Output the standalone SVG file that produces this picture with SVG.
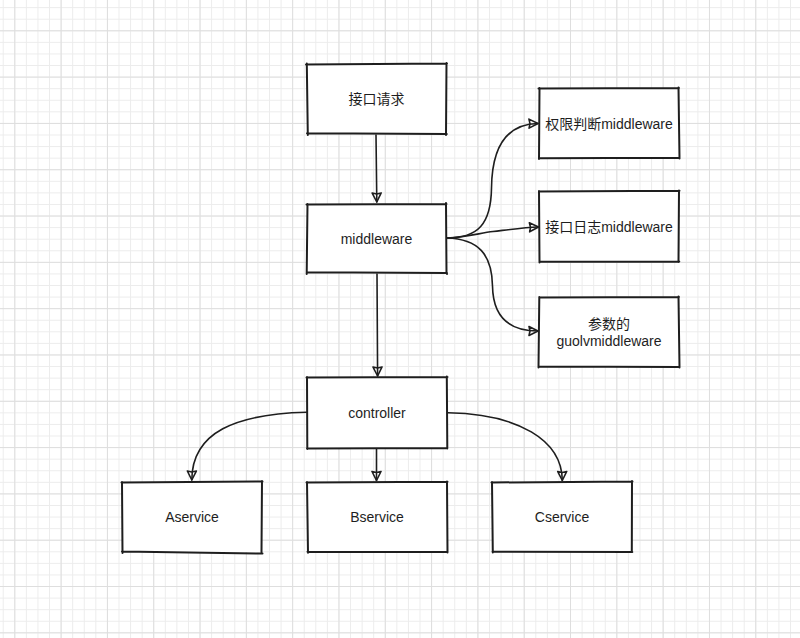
<svg xmlns="http://www.w3.org/2000/svg" width="800" height="638" viewBox="0 0 800 638">
  <defs>
    <pattern id="minor" patternUnits="userSpaceOnUse" x="14.3" y="30.3" width="11.578" height="11.578">
      <path d="M0.5 0 V11.578 M0 0.5 H11.578" stroke="#ececec" stroke-width="1" fill="none"/>
    </pattern>
    <pattern id="major" patternUnits="userSpaceOnUse" x="14.3" y="30.3" width="46.31" height="46.31">
      <path d="M0.5 0 V46.31 M0 0.5 H46.31" stroke="#dedede" stroke-width="1" fill="none"/>
    </pattern>
    <marker id="arr" markerUnits="userSpaceOnUse" markerWidth="14" markerHeight="12" viewBox="-11 -6 12 12" refX="0" refY="0" orient="auto">
      <path d="M-9 -4.5 L0 0 L-9 4.5 M-9 -4.5 L-8 0 L-9 4.5" fill="none" stroke="#1e1e1e" stroke-width="1.6" stroke-linejoin="round" stroke-linecap="round"/>
    </marker>
  </defs>
  <style>
    .box { fill: #ffffff; stroke: none; }
    .edge { fill: none; stroke: #1e1e1e; stroke-width: 2; stroke-linecap: round; stroke-linejoin: round; }
    .conn { fill: none; stroke: #1e1e1e; stroke-width: 1.6; stroke-linecap: round; marker-end: url(#arr); }
    .lbl { font-family: "Liberation Sans", "Noto Sans CJK SC", sans-serif; font-size: 14px; fill: #1e1e1e; text-anchor: middle; }
  </style>

  <rect width="800" height="638" fill="#ffffff"/>
  <rect width="800" height="638" fill="url(#minor)"/>
  <rect width="800" height="638" fill="url(#major)"/>

  <g id="connectors">
    <path class="conn" d="M376 135 L376.8 202"/>
    <path class="conn" d="M377 274 L377.6 376"/>
    <path class="conn" d="M447 238 C 478 238, 491 224, 491.5 188 C 492 145, 508 124, 538 123.5"/>
    <path class="conn" d="M447 238 C 468 237, 480 233, 493 231.5 C 510 229.5, 524 227.5, 538.5 227"/>
    <path class="conn" d="M447 238 C 478 239, 492 254, 492.5 286 C 493 318, 510 331, 538 331"/>
    <path class="conn" d="M306.5 412.3 C 236 414, 192 432, 191.8 480"/>
    <path class="conn" d="M376.5 449 L376.5 480.5"/>
    <path class="conn" d="M448 412.8 C 518 414, 562 440, 562.3 480.5"/>
  </g>

  <g id="node-request">
    <rect class="box" x="307" y="64" width="139" height="70"/>
    <path class="edge" d="M306 64.5 L447 63.5 M446.5 63 L446 135 M446.8 134 L307 133.3 M307.8 135 L306.8 63.5"/>
    <text class="lbl" x="376.5" y="104">接口请求</text>
  </g>

  <g id="node-middleware">
    <rect class="box" x="307" y="204" width="139" height="69"/>
    <path class="edge" d="M306.5 204.5 L446.5 204 M446 203 L446.5 272.5 L447 274 M447 273 L307 272.3 M306.7 274 L307.5 204"/>
    <text class="lbl" x="376.5" y="244">middleware</text>
  </g>

  <g id="node-auth">
    <rect class="box" x="539" y="88" width="140" height="70"/>
    <path class="edge" d="M538.5 88.5 L679 88 M678.5 87.5 L679.5 158.5 M679.5 157.8 L539.5 158.3 M539 159 L539.5 88"/>
    <text class="lbl" x="609" y="129">权限判断middleware</text>
  </g>

  <g id="node-log">
    <rect class="box" x="539" y="191" width="140" height="71"/>
    <path class="edge" d="M539 191.5 L679.5 190.8 M679 190.5 L678.5 262 M679.3 261.6 L539.5 261.8 M539.5 262.5 L539 191"/>
    <text class="lbl" x="609" y="232">接口日志middleware</text>
  </g>

  <g id="node-param">
    <rect class="box" x="539" y="297" width="140" height="70"/>
    <path class="edge" d="M539.5 297.5 L679 297 M678.5 296.5 L679.5 367.5 M679.5 367 L538.5 366.5 M538.5 367.5 L539.3 297"/>
    <text class="lbl" x="609" y="329">参数的</text>
    <text class="lbl" x="609" y="346">guolvmiddleware</text>
  </g>

  <g id="node-controller">
    <rect class="box" x="307" y="377" width="140" height="71"/>
    <path class="edge" d="M306.5 377.5 L447.5 377 M446.8 376.5 L447.3 448.5 M447.3 448 L307 448.5 M307.3 449 L307 377"/>
    <text class="lbl" x="377" y="418">controller</text>
  </g>

  <g id="node-aservice">
    <rect class="box" x="122" y="482" width="140" height="70"/>
    <path class="edge" d="M121.5 482.5 L262.5 481.5 M262 481 L261.5 552 M262.5 553.5 L122 551.5 M122.5 553 L122 482"/>
    <text class="lbl" x="192" y="522">Aservice</text>
  </g>

  <g id="node-bservice">
    <rect class="box" x="307" y="482" width="140" height="70"/>
    <path class="edge" d="M306.5 482.5 L447.5 481.8 M447 481.5 L447.5 552.5 M447.5 552 L307.5 551.8 M308 552.8 L307 482"/>
    <text class="lbl" x="377" y="522">Bservice</text>
  </g>

  <g id="node-cservice">
    <rect class="box" x="492" y="482" width="140" height="70"/>
    <path class="edge" d="M491.5 482.5 L632.5 481.5 M632 481 L631.8 552 M632.3 552 L492.5 551.8 M492.8 552.5 L492 482"/>
    <text class="lbl" x="562" y="522">Cservice</text>
  </g>
</svg>
